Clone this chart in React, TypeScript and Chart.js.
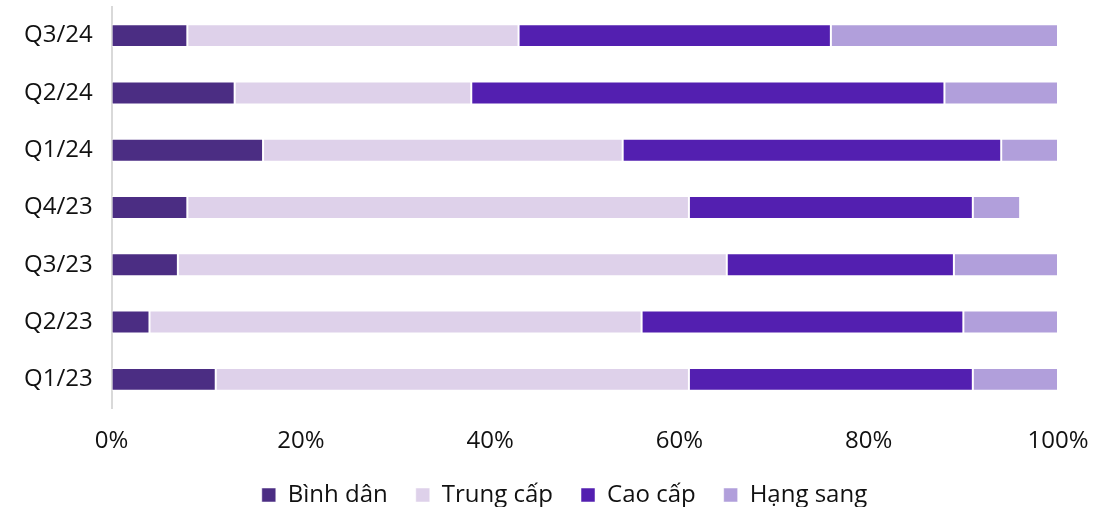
import React, { useEffect, useRef } from "react";
import { Chart, registerables } from "chart.js";

Chart.register(...registerables);

const categories = ["Q3/24", "Q2/24", "Q1/24", "Q4/23", "Q3/23", "Q2/23", "Q1/23"];
const binhDan = [8, 13, 16, 8, 7, 4, 11];
const trungCap = [35, 25, 38, 53, 58, 52, 50];
const caoCap = [33, 50, 40, 30, 24, 34, 30];
const hangSang = [24, 12, 6, 5, 11, 10, 9];
const xTicks = [0, 20, 40, 60, 80, 100];

const seriesNames = ["Bình dân", "Trung cấp", "Cao cấp", "Hạng sang"];
const seriesColors = ["#4B2D83", "#DED1EA", "#531FB0", "#B19FDB"];

const legendTweakPlugin = {
  id: "legendTweak",
  afterInit(chart: any) {
    const legend = chart.legend;
    if (!legend) return;
    const origFit = legend.fit.bind(legend);
    legend.fit = function () {
      origFit();
      this.height = 52;
    };
  },
  afterLayout(chart: any) {
    const legend = chart.legend;
    if (!legend) return;
    legend.left += 29;
    legend.right += 29;
  },
};

export default function App() {
  const ref = useRef<HTMLCanvasElement | null>(null);
  useEffect(() => {
    document.body.style.margin = "0";
    const ctx = ref.current;
    if (!ctx) return;
    const font = "'Open Sans', 'Noto Sans', sans-serif";
    const values = [binhDan, trungCap, caoCap, hangSang];
    const chart = new Chart(ctx, {
      type: "bar",
      data: {
        labels: categories,
        datasets: values.map((v, i) => ({
          label: seriesNames[i],
          data: v,
          backgroundColor: seriesColors[i],
          borderColor: "rgba(255,255,255,0.5)",
          borderWidth: 1,
          borderSkipped: false,
          barPercentage: 0.4,
          categoryPercentage: 1,
        })),
      },
      plugins: [legendTweakPlugin],
      options: {
        indexAxis: "y",
        animation: false,
        responsive: false,
        maintainAspectRatio: false,
        layout: { padding: { top: 7, right: 58, left: 13, bottom: 0 } },
        scales: {
          x: {
            stacked: true,
            min: 0,
            max: 100,
            afterBuildTicks: (axis: any) => {
              axis.ticks = xTicks.map((v) => ({ value: v }));
            },
            afterFit: (scale: any) => {
              scale.paddingLeft = 0;
              scale.paddingRight = 0;
              scale.height = 47;
            },
            ticks: {
              callback: (v: any) => v + "%",
              color: "#111",
              font: { family: font, size: 24 },
              padding: 11,
              maxRotation: 0,
            },
            grid: { display: false },
            border: { display: false },
          },
          y: {
            stacked: true,
            afterFit: (scale: any) => {
              scale.paddingTop = 0;
              scale.paddingBottom = 0;
            },
            ticks: {
              color: "#111",
              font: { family: font, size: 24 },
              padding: 11,
            },
            grid: { display: false },
            border: { display: true, color: "#d9d9d9", width: 2 },
          },
        },
        plugins: {
          legend: {
            position: "bottom",
            labels: {
              boxWidth: 14,
              boxHeight: 14,
              padding: 28,
              color: "#111",
              font: { family: font, size: 24 },
            },
          },
          tooltip: { enabled: false },
        },
      },
    });
    return () => chart.destroy();
  }, []);
  return (
    <div style={{ width: 1116, height: 507 }}>
      <canvas ref={ref} width={1116} height={507} />
    </div>
  );
}
